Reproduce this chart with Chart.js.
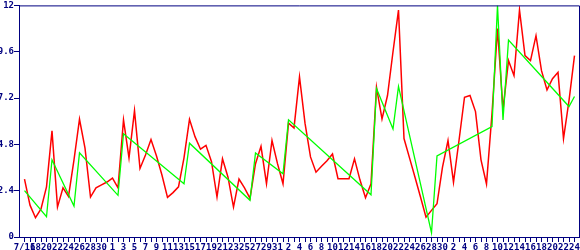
<!DOCTYPE html>
<html>
<head>
<meta charset="utf-8">
<script src="https://cdn.jsdelivr.net/npm/chart.js@4/dist/chart.umd.min.js"></script>
<style>
  html, body { margin: 0; padding: 0; background: #fff; }
</style>
</head>
<body>
<canvas id="chart" width="580" height="250"></canvas>
<script>
// day labels, 7/16 .. 10/24
const dayLabels = [
  '7/16','17','18','19','20','21','22','23','24','25','26','27','28','29','30','31',
  '1','2','3','4','5','6','7','8','9','10','11','12','13','14','15','16',
  '17','18','19','20','21','22','23','24','25','26','27','28','29','30','31',
  '1','2','3','4','5','6','7','8','9','10','11','12','13','14','15','16',
  '17','18','19','20','21','22','23','24','25','26','27','28','29','30',
  '1','2','3','4','5','6','7','8','9','10','11','12','13','14','15','16',
  '17','18','19','20','21','22','23','24'
];

const yTicks = [0, 2.4, 4.8, 7.2, 9.6, 12];

// red series, one value per day
const redValues = [
  3.0, 1.65, 1.0, 1.45, 2.6, 5.5, 1.55, 2.55, 2.1, 4.0,
  6.1, 4.6, 2.07, 2.55, 2.7, 2.85, 3.05, 2.55, 6.07, 4.1,
  6.55, 3.55, 4.25, 5.05, 4.2, 3.2, 2.05, 2.3, 2.6, 4.1,
  6.1, 5.2, 4.55, 4.75, 3.9, 2.07, 4.05, 3.1, 1.55, 3.0,
  2.55, 2.0, 3.8, 4.7, 2.76, 5.0, 3.8, 2.76, 5.9, 5.65,
  8.3, 5.9, 4.15, 3.36, 3.67, 3.95, 4.3, 3.02, 3.02, 3.02,
  4.05, 2.95, 2.03, 2.76, 7.76, 6.12, 7.33, 9.6, 11.76, 5.1,
  4.1, 3.1, 2.07, 1.03, 1.38, 1.72, 3.62, 5.0, 2.84, 5.0,
  7.24, 7.33, 6.5, 4.0, 2.75, 6.4, 10.8, 6.6, 9.14, 8.36,
  11.76, 9.4, 9.14, 10.43, 8.62, 7.62, 8.2, 8.53, 5.1, 7.07,
  9.4
];

// green series, only on the days it has a value
const greenDays = [0, 4, 5, 9, 10, 17, 18, 29, 30, 41, 42, 47, 48, 63, 64, 67, 68, 74, 75, 85, 86, 87, 88, 99, 100];
const greenValues = [2.4, 1.05, 4.0, 1.6, 4.36, 2.16, 5.35, 2.76, 4.86, 1.9, 4.35, 3.28, 6.07, 2.19, 7.7, 5.6, 7.8, 0.22, 4.2, 5.72, 12, 6.07, 10.2, 6.76, 7.28];

const NAVY = '#000080';
const FONT = { family: 'DejaVu Sans Mono', size: 9, weight: 'bold' };

// top and right edge of the plot box
const frame = {
  id: 'frame',
  afterDraw(chart) {
    const { ctx, chartArea: a } = chart;
    ctx.save();
    ctx.strokeStyle = NAVY;
    ctx.lineWidth = 1;
    ctx.beginPath();
    ctx.moveTo(a.left, a.top + 0.5);
    ctx.lineTo(a.right - 0.5, a.top + 0.5);
    ctx.lineTo(a.right - 0.5, a.bottom);
    ctx.stroke();
    ctx.restore();
  }
};

new Chart(document.getElementById('chart'), {
  type: 'line',
  data: {
    datasets: [
      {
        data: greenDays.map((d, k) => ({ x: d, y: greenValues[k] })),
        borderColor: '#00ff00',
        borderWidth: 1.3
      },
      {
        data: redValues.map((v, i) => ({ x: i, y: v })),
        borderColor: '#ff0000',
        borderWidth: 1.5
      }
    ]
  },
  options: {
    responsive: false,
    animation: false,
    layout: { padding: { top: 5, right: 0, left: 0, bottom: 0 } },
    elements: { point: { radius: 0 }, line: { tension: 0 } },
    plugins: { legend: { display: false }, tooltip: { enabled: false } },
    scales: {
      x: {
        type: 'linear',
        min: -1,
        max: 101,
        afterBuildTicks: s => { s.ticks = dayLabels.map((_, i) => ({ value: i })); },
        afterFit: s => { s.height = 13; },
        grid: { drawOnChartArea: false, color: NAVY, tickLength: 5 },
        border: { color: NAVY, width: 1 },
        ticks: {
          autoSkip: false, maxRotation: 0, minRotation: 0, padding: 0,
          color: NAVY, font: FONT,
          callback: v => (v % 2 === 0 ? dayLabels[v] : '')
        }
      },
      y: {
        min: 0,
        max: 12,
        afterBuildTicks: s => { s.ticks = yTicks.map(v => ({ value: v })); },
        afterFit: s => { s.width = 19; },
        grid: { drawOnChartArea: false, color: NAVY, tickLength: 5 },
        border: { color: NAVY, width: 1 },
        ticks: { padding: 0, color: NAVY, font: FONT, callback: v => String(v) }
      }
    }
  },
  plugins: [frame]
});
</script>
</body>
</html>
